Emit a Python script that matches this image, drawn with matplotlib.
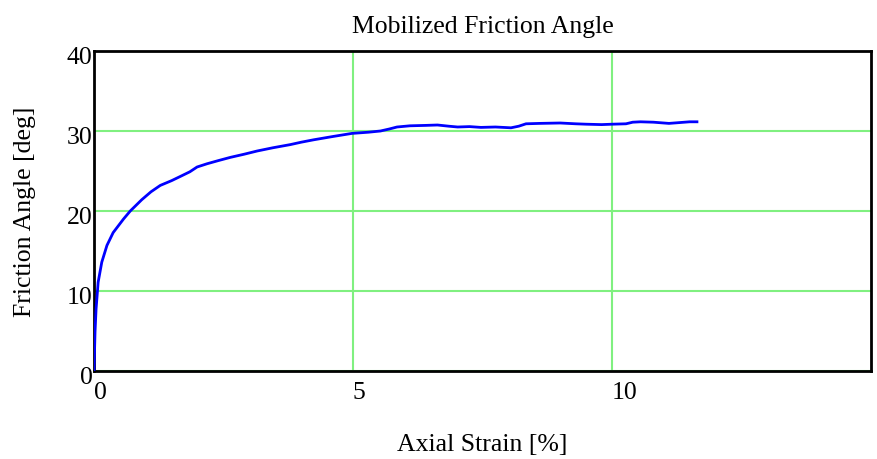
import matplotlib
matplotlib.use("Agg")
import matplotlib.pyplot as plt
from matplotlib.transforms import ScaledTranslation

# Axial strain [%] and mobilized friction angle [deg]
strain = [0.0, 0.02, 0.04, 0.08, 0.15, 0.25, 0.37, 0.57, 0.70, 0.92, 1.1, 1.28,
          1.5, 1.66, 1.85, 1.99, 2.18, 2.4, 2.63, 2.9, 3.15, 3.45, 3.79, 4.0,
          4.24, 4.6, 4.98, 5.3, 5.53, 5.7, 5.85, 6.1, 6.4, 6.63, 6.85, 7.02,
          7.25, 7.47, 7.75, 8.05, 8.2, 8.34, 8.6, 9.0, 9.3, 9.5, 9.8, 10.0,
          10.27, 10.4, 10.55, 10.8, 11.0, 11.1, 11.3, 11.5, 11.64]
phi = [0.0, 4.9, 7.75, 11.1, 13.6, 15.7, 17.3, 19.0, 20.0, 21.4, 22.4, 23.2,
       23.8, 24.3, 24.9, 25.5, 25.9, 26.3, 26.7, 27.1, 27.5, 27.9, 28.3, 28.6,
       28.9, 29.3, 29.7, 29.85, 30.0, 30.25, 30.5, 30.65, 30.7, 30.75, 30.6, 30.5,
       30.55, 30.45, 30.5, 30.4, 30.6, 30.9, 30.95, 31.0, 30.9, 30.85, 30.8, 30.85,
       30.9, 31.1, 31.15, 31.1, 31.0, 30.95, 31.05, 31.15, 31.15]

x_ticks = [0, 5, 10]
y_ticks = [0, 10, 20, 30, 40]

plt.rcParams["font.family"] = ["Liberation Serif", "DejaVu Serif"]
FS = 18.5

fig = plt.figure(figsize=(8.78, 4.60), dpi=100)
ax = fig.add_axes([94 / 878, 88 / 460, 777 / 878, 320 / 460])

ax.plot(strain, phi, color="#0000ff", linewidth=2.0, zorder=3)

ax.set_xlim(0, 15)
ax.set_ylim(0, 40)
ax.set_xticks(x_ticks)
ax.set_yticks(y_ticks)
ax.set_xticklabels([str(t) for t in x_ticks], ha="left")
ax.grid(True, color="#80f080", linewidth=1.5, zorder=1)
ax.set_axisbelow(True)
ax.tick_params(axis="both", length=0, labelsize=FS)
ax.tick_params(axis="x", pad=7)
ax.tick_params(axis="y", pad=1)
shift = ScaledTranslation(0, -4 / 100, fig.dpi_scale_trans)
for lbl in ax.get_yticklabels():
    lbl.set_transform(lbl.get_transform() + shift)
for s in ax.spines.values():
    s.set_linewidth(2.0)
    s.set_color("black")

ax.set_title("Mobilized Friction Angle", fontsize=FS, pad=14)
ax.set_xlabel("Axial Strain [%]", fontsize=FS, labelpad=22)
ax.set_ylabel("Friction Angle [deg]", fontsize=FS, labelpad=22)

fig.savefig("out.png", dpi=100)
